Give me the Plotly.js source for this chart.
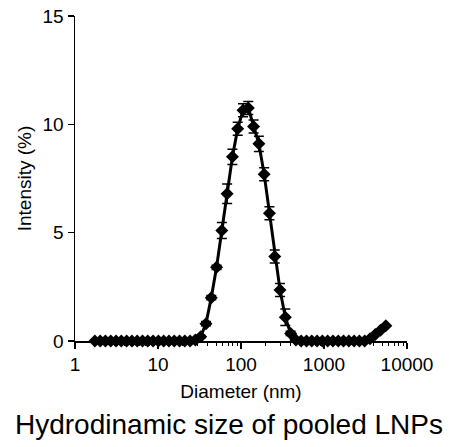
<!DOCTYPE html>
<html>
<head>
<meta charset="utf-8">
<script src="https://cdn.plot.ly/plotly-3.0.1.min.js"></script>
<style>html,body{margin:0;padding:0;background:#fff;}#chart{width:458px;height:447px;}</style>
</head>
<body>
<div id="chart"></div>
<script>
const diameters = [1.736,2.01,2.328,2.696,3.122,3.615,4.187,4.849,5.615,6.503,7.531,8.721,10.1,11.7,13.54,15.69,18.17,21.04,24.36,
  28.21,32.67,37.84,43.82,50.75,58.77,68.06,78.82,91.28,105.7,122.4,141.8,164.2,190.1,220.2,255.0,295.3,342.0,396.1,458.7,
  531.2,615.1,712.4,825.0,955.4,1106,1281,1484,1718,1990,2305,2669,3091,3580,4145,4801,5560];
const intensity = [0,0,0,0,0,0,0,0,0,0,0,0,0,0,0,0,0,0,0,
  0.05,0.2,0.8,2.0,3.4,5.1,6.8,8.5,9.8,10.65,10.75,9.9,9.1,7.7,5.9,3.9,2.35,1.1,0.35,0.05,
  0,0,0,0,0,0,0,0,0,0,0,0,0,0.1,0.3,0.5,0.7];
const intensityErr = [0,0,0,0,0,0,0,0,0,0,0,0,0,0,0,0,0,0,0,
  0.02,0.05,0.1,0.1,0.1,0.37,0.45,0.35,0.3,0.3,0.3,0.3,0.35,0.3,0.3,0.3,0.3,0.38,0.1,0.02,
  0,0,0,0,0,0,0,0,0,0,0,0,0,0,0,0,0];
const xTickVals = [1,10,100,1000,10000];
const xTickText = ["1","10","100","1000","10000"];
const xMinorTickVals = [2,3,4,5,6,7,8,9,20,30,40,50,60,70,80,90,200,300,400,500,600,700,800,900,2000,3000,4000,5000,6000,7000,8000,9000];
const yTickVals = [0,5,10,15];
const titleText = "Hydrodinamic size of pooled LNPs";
const xTitle = "Diameter (nm)";
const yTitle = "Intensity (%)";

const font = "Liberation Sans, Arial, sans-serif";
const minorHelper = {
  x: [1, 10000], y: [0, 0], xaxis: 'x2', yaxis: 'y', type: 'scatter', mode: 'markers',
  marker: {opacity: 0, size: 1}, hoverinfo: 'skip', showlegend: false
};
const trace = {
  x: diameters, y: intensity, type: 'scatter', mode: 'lines+markers',
  line: {color: '#000', width: 3},
  marker: {symbol: 'diamond', size: 10, color: '#000'},
  error_y: {type: 'data', array: intensityErr, visible: true, color: '#000', thickness: 1.5, width: 5},
  cliponaxis: false, hoverinfo: 'skip'
};
const layout = {
  width: 458, height: 447,
  margin: {l: 75, r: 51, t: 16, b: 106},
  paper_bgcolor: '#fff', plot_bgcolor: '#fff',
  showlegend: false,
  font: {family: font, color: '#000'},
  title: {text: titleText, font: {family: font, size: 28, color: '#000'}, x: 0.5, xanchor: 'center', y: 1 - 424/447, yref: 'container', yanchor: 'middle'},
  xaxis: {
    type: 'log', range: [0, 4], tickmode: 'array', tickvals: xTickVals, ticktext: xTickText,
    showgrid: false, zeroline: false, showline: true, linecolor: '#000', linewidth: 1.5,
    ticks: 'outside', ticklen: 6, tickwidth: 1.5, tickcolor: '#000',
    tickfont: {family: font, size: 19, color: '#000'},
    title: {text: xTitle, font: {family: font, size: 19, color: '#000'}, standoff: 10}
  },
  xaxis2: {
    type: 'log', range: [0, 4], overlaying: 'x', anchor: 'y', side: 'bottom',
    tickmode: 'array', tickvals: xMinorTickVals, showticklabels: false,
    showgrid: false, zeroline: false, showline: false,
    ticks: 'outside', ticklen: 4, tickwidth: 1, tickcolor: '#000'
  },
  yaxis: {
    range: [0, 15], tickvals: yTickVals,
    showgrid: false, zeroline: false, showline: true, linecolor: '#000', linewidth: 1.5,
    ticks: 'outside', ticklen: 6, tickwidth: 1.5, tickcolor: '#000',
    tickfont: {family: font, size: 19, color: '#000'},
    title: {text: yTitle, font: {family: font, size: 19, color: '#000'}, standoff: 6}
  }
};
Plotly.newPlot('chart', [minorHelper, trace], layout, {staticPlot: true, displayModeBar: false});
</script>
</body>
</html>
